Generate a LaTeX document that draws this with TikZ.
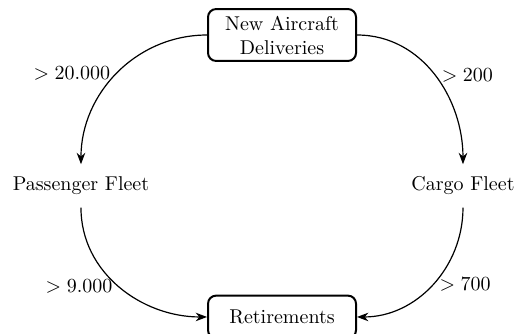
\documentclass[tikz,border=0pt]{standalone}
\usepackage{amsmath}
\usepackage{tikz}
\usetikzlibrary{positioning, arrows.meta}

\begin{document}
\begin{tikzpicture}[>={Stealth},
    stage/.style={minimum height=.75cm, minimum width=2.6cm, align=center},
    box/.style={stage, draw, rounded corners=4pt, line width=1pt},
    flow/.style={->, semithick}]

    \useasboundingbox (0,0) rectangle (9.138,5.869);

    % Boxed nodes
    \node[box] (deliveries) at (4.956,5.254) {New Aircraft\\Deliveries};
    \node[box] (retirements) at (4.956,0.299) {Retirements};

    % Fleet nodes
    \node[stage] (passenger) at (1.423,2.601) {Passenger Fleet};
    \node[stage] (cargo) at (8.136,2.601) {Cargo Fleet};

    % Flows
    \draw[flow] (deliveries.west) to[out=180, in=90] node[left] {$>20.000$} (passenger.north);
    \draw[flow] (deliveries.east) to[out=0, in=90] node[right] {$>200$} (cargo.north);
    \draw[flow] (passenger.south) to[out=-90, in=180] node[left] {$>9.000$} (retirements.west);
    \draw[flow] (cargo.south) to[out=-90, in=0] node[right] {$>700$} (retirements.east);

\end{tikzpicture}
\end{document}
